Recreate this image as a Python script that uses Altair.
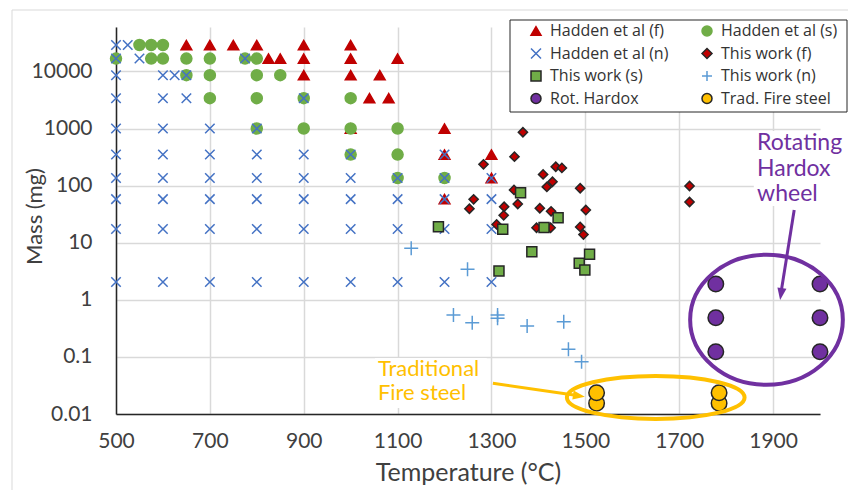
import altair as alt
import pandas as pd

# ---------------------------------------------------------------- series styling
SERIES = ["Hadden et al (f)", "Hadden et al (s)", "Hadden et al (n)",
          "This work (f)", "This work (s)", "This work (n)",
          "Rot. Hardox", "Trad. Fire steel"]
X_PATH = "M-1,-1L1,1M-1,1L1,-1"
PLUS_PATH = "M-1,0L1,0M0,-1L0,1"
SHAPES = ["triangle-up", "circle", X_PATH, "diamond", "square", PLUS_PATH, "circle", "circle"]
FILLS = ["#C00000", "#70AD47", "transparent", "#C00000", "#70AD47", "transparent", "#7030A0", "#FFC000"]
STROKES = ["#C00000", "#70AD47", "#4472C4", "#262626", "#262626", "#5B9BD5", "#262626", "#262626"]
SIZES = [115, 121, 90, 85, 100, 196, 240, 240]

X_TICKS = [500, 700, 900, 1100, 1300, 1500, 1700, 1900]
Y_TICKS = [0.01, 0.1, 1, 10, 100, 1000, 10000]

# ---------------------------------------------------------------- data (temperature in °C, mass in mg)
hadden_f_temp = [650, 700, 750, 800, 900, 1000, 825, 850, 900, 1000, 1100,
                 900, 1000, 1062, 1040, 1081, 1000, 1200, 1200, 1300, 1300, 1200]
hadden_f_mass = [29000, 29000, 29000, 29000, 29000, 29000, 16800, 16800, 16800, 16800, 16800,
                 8600, 8600, 8600, 3400, 3400, 1000, 1000, 350, 350, 136, 58]

hadden_s_temp = [550, 575, 600, 500, 575, 600, 650, 700, 775, 800, 650, 700, 800, 850,
                 700, 800, 900, 1000, 800, 900, 1000, 1100, 1000, 1100, 1100, 1200]
hadden_s_mass = [29000, 29000, 29000, 16800, 16800, 16800, 16800, 16800, 16800, 16800,
                 8600, 8600, 8600, 8600, 3400, 3400, 3400, 3400, 1000, 1000, 1000, 1000,
                 350, 350, 136, 136]

hadden_n_temp = [500, 500, 500, 500, 500, 500, 500, 500, 500, 500,
                 525, 550,
                 600, 600, 600, 600, 600, 600, 600, 600,
                 625, 650, 650,
                 700, 700, 700, 700, 700, 700,
                 775,
                 800, 800, 800, 800, 800, 800,
                 900, 900, 900, 900, 900, 900,
                 1000, 1000, 1000, 1000, 1000,
                 1100, 1100, 1100, 1100,
                 1200, 1200, 1200, 1200, 1200,
                 1300, 1300, 1300, 1300]
hadden_n_mass = [29000, 16800, 8600, 3400, 1000, 350, 136, 58, 17.4, 2.05,
                 29000, 16800,
                 8600, 3400, 1000, 350, 136, 58, 17.4, 2.05,
                 8600, 8600, 3400,
                 1000, 350, 136, 58, 17.4, 2.05,
                 16800,
                 1000, 350, 136, 58, 17.4, 2.05,
                 3400, 350, 136, 58, 17.4, 2.05,
                 350, 136, 58, 17.4, 2.05,
                 136, 58, 17.4, 2.05,
                 350, 136, 58, 17.4, 2.05,
                 136, 58, 17.4, 2.05]

this_f_temp = [1367, 1349, 1283, 1437, 1450, 1410, 1430, 1418, 1489, 1348, 1262, 1253, 1327,
               1356, 1403, 1427, 1501, 1326, 1311, 1396, 1426, 1489, 1496, 1722, 1722]
this_f_mass = [859, 321, 236, 214, 204, 157, 117, 95, 90, 84, 57.6, 39.4, 42.7,
               47.6, 40.1, 35.5, 37.4, 30.2, 20.9, 18.3, 18.3, 18.9, 13.9, 98.5, 51.7]

this_s_temp = [1362, 1442, 1324, 1412, 1386, 1316, 1509, 1487, 1499, 1187]
this_s_mass = [75.2, 27.4, 17.2, 18.5, 6.96, 3.20, 6.27, 4.36, 3.33, 19.1]

this_n_temp = [1129, 1249, 1219, 1259, 1313, 1313, 1376, 1454, 1464, 1492]
this_n_mass = [7.98, 3.42, 0.542, 0.397, 0.542, 0.474, 0.348, 0.414, 0.136, 0.0824]

hardox_temp = [1778, 1778, 1778, 2000, 2000, 2000]
hardox_mass = [1.89, 0.486, 0.123, 1.89, 0.486, 0.123]

fire_temp = [1524, 1524, 1785, 1785]
fire_mass = [0.0154, 0.0236, 0.0154, 0.0236]

series_data = [
    (hadden_f_temp, hadden_f_mass), (hadden_s_temp, hadden_s_mass), (hadden_n_temp, hadden_n_mass),
    (this_f_temp, this_f_mass), (this_s_temp, this_s_mass), (this_n_temp, this_n_mass),
    (hardox_temp, hardox_mass), (fire_temp, fire_mass),
]
rows = []
for name, (temps, masses) in zip(SERIES, series_data):
    for t, m in zip(temps, masses):
        rows.append({"series": name, "temp": t, "mass": m})
points_df = pd.DataFrame(rows)

# ---------------------------------------------------------------- annotations (data coordinates)
hardox_ring = pd.DataFrame({"temp": [1886], "mass": [0.448]})
fire_ring = pd.DataFrame({"temp": [1650], "mass": [0.0195]})
hardox_label = pd.DataFrame({"temp": [1866], "mass": [420], "label": ["Rotating\nHardox\nwheel"]})
fire_label = pd.DataFrame({"temp": [1058], "mass": [0.0463], "label": ["Traditional\nFire steel"]})
label_boxes = pd.DataFrame({"temp": [1859, 1052], "temp2": [2060, 1290],
                            "mass": [905, 0.0957], "mass2": [44, 0.0127]})
hardox_arrow = pd.DataFrame({"temp": [1945], "mass": [37.4], "temp2": [1917], "mass2": [1.34]})
hardox_tip = pd.DataFrame({"temp": [1915], "mass": [0.992]})
fire_arrow = pd.DataFrame({"temp": [1303], "mass": [0.0345], "temp2": [1483], "mass2": [0.0210]})
fire_tip = pd.DataFrame({"temp": [1499], "mass": [0.0201]})

PURPLE = "#7030A0"
GOLD = "#FFC000"
ARROW_HEAD = "M0,0L-0.42,-1.1L0.42,-1.1Z"

# ---------------------------------------------------------------- shared encodings
X_ENC = alt.X("temp:Q",
              scale=alt.Scale(domain=[500, 2000], nice=False, zero=False),
              axis=alt.Axis(values=X_TICKS, format="d", title="Temperature (°C)", labelFlush=False,
                            labelPadding=16, titleX=352, titleY=58, titleBaseline="middle",
                            titleFontSize=25))
Y_ENC = alt.Y("mass:Q",
              scale=alt.Scale(type="log", domain=[0.01, 60000], nice=False),
              axis=alt.Axis(values=Y_TICKS, format="~g", title="Mass (mg)", labelFlush=False,
                            labelPadding=24, titleX=-82, titleY=189, titleBaseline="middle",
                            titleFontSize=22))

legend = alt.Legend(title=None, orient="none", legendX=412, legendY=-4, columns=2,
                    direction="horizontal",
                    columnPadding=30, rowPadding=6.5, padding=0, zindex=2,
                    labelFont="Open Sans", labelFontSize=16, labelColor="#333333",
                    labelOffset=6, symbolSize=100, symbolStrokeWidth=1.5)

FILL_ENC = alt.Fill("series:N", scale=alt.Scale(domain=SERIES, range=FILLS), legend=legend)
STROKE_ENC = alt.Stroke("series:N", scale=alt.Scale(domain=SERIES, range=STROKES), legend=legend)
SHAPE_ENC = alt.Shape("series:N", scale=alt.Scale(domain=SERIES, range=SHAPES), legend=legend)

one_row = pd.DataFrame({"k": [0]})

frame = alt.Chart(one_row).mark_rect(fillOpacity=0, stroke="#D9D9D9", strokeWidth=1).encode(
    x=alt.value(-104), x2=alt.value(900), y=alt.value(-17), y2=alt.value(600))

legend_box = alt.Chart(one_row).mark_rect(fill="white", stroke="#262626", strokeWidth=1).encode(
    x=alt.value(394), x2=alt.value(731), y=alt.value(-7), y2=alt.value(85))

boxes = alt.Chart(label_boxes).mark_rect(fill="white").encode(
    x=X_ENC, x2="temp2:Q", y=Y_ENC, y2="mass2:Q")

# one layer per series, drawn in legend order, each with its own marker size
series_layers = []
for name, size in zip(SERIES, SIZES):
    series_layers.append(
        alt.Chart(points_df).transform_filter(alt.datum.series == name)
        .mark_point(filled=True, opacity=1, strokeWidth=1.5, size=size)
        .encode(x=X_ENC, y=Y_ENC, fill=FILL_ENC, stroke=STROKE_ENC, shape=SHAPE_ENC)
    )

hardox_ellipse = alt.Chart(hardox_ring).mark_point(
    shape="M-1,0A1,0.852,0,1,1,1,0A1,0.852,0,1,1,-1,0Z",
    filled=False, color=PURPLE, strokeWidth=4, size=23317, opacity=1).encode(x=X_ENC, y=Y_ENC)
fire_ellipse = alt.Chart(fire_ring).mark_point(
    shape="M-1,0A1,0.242,0,1,1,1,0A1,0.242,0,1,1,-1,0Z",
    filled=False, color=GOLD, strokeWidth=4, size=31577, opacity=1).encode(x=X_ENC, y=Y_ENC)

hardox_line = alt.Chart(hardox_arrow).mark_rule(color=PURPLE, strokeWidth=3).encode(
    x=X_ENC, x2="temp2:Q", y=Y_ENC, y2="mass2:Q")
hardox_head = alt.Chart(hardox_tip).mark_point(
    shape=ARROW_HEAD, filled=True, color=PURPLE, size=475, opacity=1, angle=8.8).encode(x=X_ENC, y=Y_ENC)
fire_line = alt.Chart(fire_arrow).mark_rule(color=GOLD, strokeWidth=3).encode(
    x=X_ENC, x2="temp2:Q", y=Y_ENC, y2="mass2:Q")
fire_head = alt.Chart(fire_tip).mark_point(
    shape=ARROW_HEAD, filled=True, color=GOLD, size=475, opacity=1, angle=278.3).encode(x=X_ENC, y=Y_ENC)

hardox_text = alt.Chart(hardox_label).mark_text(
    align="left", baseline="alphabetic", font="Lato", fontSize=23, color=PURPLE,
    lineBreak="\n", lineHeight=25.5).encode(x=X_ENC, y=Y_ENC, text="label:N")
fire_text = alt.Chart(fire_label).mark_text(
    align="left", baseline="alphabetic", font="Lato", fontSize=22, color=GOLD,
    lineBreak="\n", lineHeight=24.5).encode(x=X_ENC, y=Y_ENC, text="label:N")

chart = alt.layer(
    frame, legend_box, boxes, *series_layers,
    hardox_ellipse, fire_ellipse, hardox_line, hardox_head, fire_line, fire_head,
    hardox_text, fire_text,
).properties(
    width=704, height=387,
    autosize=alt.AutoSizeParams(type="none"),
    padding={"left": 116, "top": 27, "right": 28, "bottom": 76},
    background="white",
).configure_view(
    strokeWidth=0
).configure_axis(
    domainColor="#262626", domainWidth=1.5,
    gridColor="#D9D9D9", gridWidth=1.5,
    ticks=False, tickSize=0,
    labelFont="Lato", labelFontSize=21, labelColor="#404040",
    titleFont="Lato", titleColor="#404040", titleFontWeight="normal",
)

chart.save("out.html", embed_options={"renderer": "svg", "actions": False})
